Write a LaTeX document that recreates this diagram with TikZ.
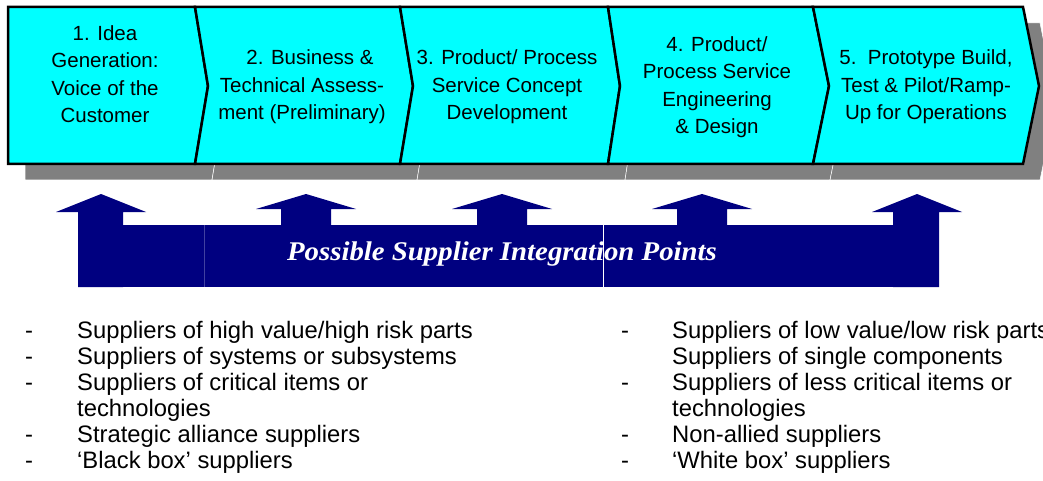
\documentclass[tikz,border=0pt]{standalone}
\usepackage{fontspec}
\setmainfont{Liberation Sans}
\newfontfamily\bannerfont{Liberation Serif}
\definecolor{chevcyan}{HTML}{00FFFF}
\definecolor{navyblue}{HTML}{000080}
\definecolor{shadowgray}{HTML}{808080}
\begin{document}
\begin{tikzpicture}[x=1pt,y=-1pt,
  chev/.style={fill=chevcyan,draw=black,line width=2.5pt,line join=miter},
  shad/.style={fill=shadowgray,draw=white,line width=0.5pt},
  arrowshape/.style={fill=navyblue},
  stagetext/.style={align=center,inner sep=0pt,font=\fontsize{20.5}{27.5}\selectfont},
  listtext/.style={anchor=base west,inner sep=0pt,font=\fontsize{23.8}{26}\selectfont},
  bannertext/.style={anchor=base,inner sep=0pt,text=white,font=\bannerfont\bfseries\itshape\fontsize{27}{30}\selectfont}]
\useasboundingbox[fill=white] (0,0) rectangle (1043,481);

% shadows
\foreach \a/\b/\c/\d in {8/8/195/208,195/208/400/413,400/413/608/620,608/620/813/829,813/829/1023/1039}{
  \fill[shad,shift={(17,16)}] (\a,7) -- (\c,7) -- (\d,86) -- (\c,164) -- (\a,164) -- (\b,86) -- cycle;
}
% chevrons
\foreach \a/\b/\c/\d in {8/8/195/208,195/208/400/413,400/413/608/620,608/620/813/829,813/829/1023/1039}{
  \filldraw[chev] (\a,7) -- (\c,7) -- (\d,86) -- (\c,164) -- (\a,164) -- (\b,86) -- cycle;
}

\node[stagetext] (s1) at (105,74) {1. Idea\\Generation:\\Voice of the\\Customer};
\node[stagetext] (s2) at (302,87) {\hspace*{16pt}2. Business \&\\Technical Assess-\\ment (Preliminary)};
\node[stagetext] (s3) at (507,87) {3. Product/ Process\\Service Concept\\Development};
\node[stagetext] (s4) at (717,87) {4. Product/\\Process Service\\Engineering\\\& Design};
\node[stagetext] (s5) at (926,87) {5.\ \ Prototype Build,\\Test \& Pilot/Ramp-\\Up for Operations};

% supplier integration arrows
\fill[arrowshape] (123,225) rectangle (893,287);
\fill[arrowshape] (101,194) -- (146,212) -- (123,212) -- (123,287) -- (78,287) -- (78,212) -- (56,212) -- cycle;
\foreach \t in {306,502,702}{
  \fill[arrowshape] (\t,194) -- (\t+50,209) -- (\t+25,209) -- (\t+25,226) -- (\t-25,226) -- (\t-25,209) -- (\t-50,209) -- cycle;
}
\fill[arrowshape] (917,194) -- (962,212) -- (939,212) -- (939,287) -- (893,287) -- (893,212) -- (872,212) -- cycle;
\draw[white,line width=0.6pt] (603,225) -- (603,287);
\draw[navyblue!75!white,line width=0.4pt] (204,225) -- (204,287);

\node[bannertext] (banner) at (502,260) {\scalebox{1.067}[1]{Possible Supplier Integration Points}};

% lists
\foreach \y in {338,364,390,442,468}{
  \node[listtext] at (25,\y) {-};
}
\node[listtext] (l1) at (77,338) {Suppliers of high value/high risk parts};
\node[listtext] (l2) at (77,364) {Suppliers of systems or subsystems};
\node[listtext] (l3) at (77,390) {Suppliers of critical items or};
\node[listtext] (l4) at (77,416) {technologies};
\node[listtext] (l5) at (77,442) {Strategic alliance suppliers};
\node[listtext] (l6) at (77,468) {‘Black box’ suppliers};

\foreach \y in {338,390,442,468}{
  \node[listtext] at (621,\y) {-};
}
\node[listtext] (r1) at (672,338) {Suppliers of low value/low risk parts};
\node[listtext] (r2) at (672,364) {Suppliers of single components};
\node[listtext] (r3) at (672,390) {Suppliers of less critical items or};
\node[listtext] (r4) at (672,416) {technologies};
\node[listtext] (r5) at (672,442) {Non-allied suppliers};
\node[listtext] (r6) at (672,468) {‘White box’ suppliers};
\end{tikzpicture}
\end{document}
